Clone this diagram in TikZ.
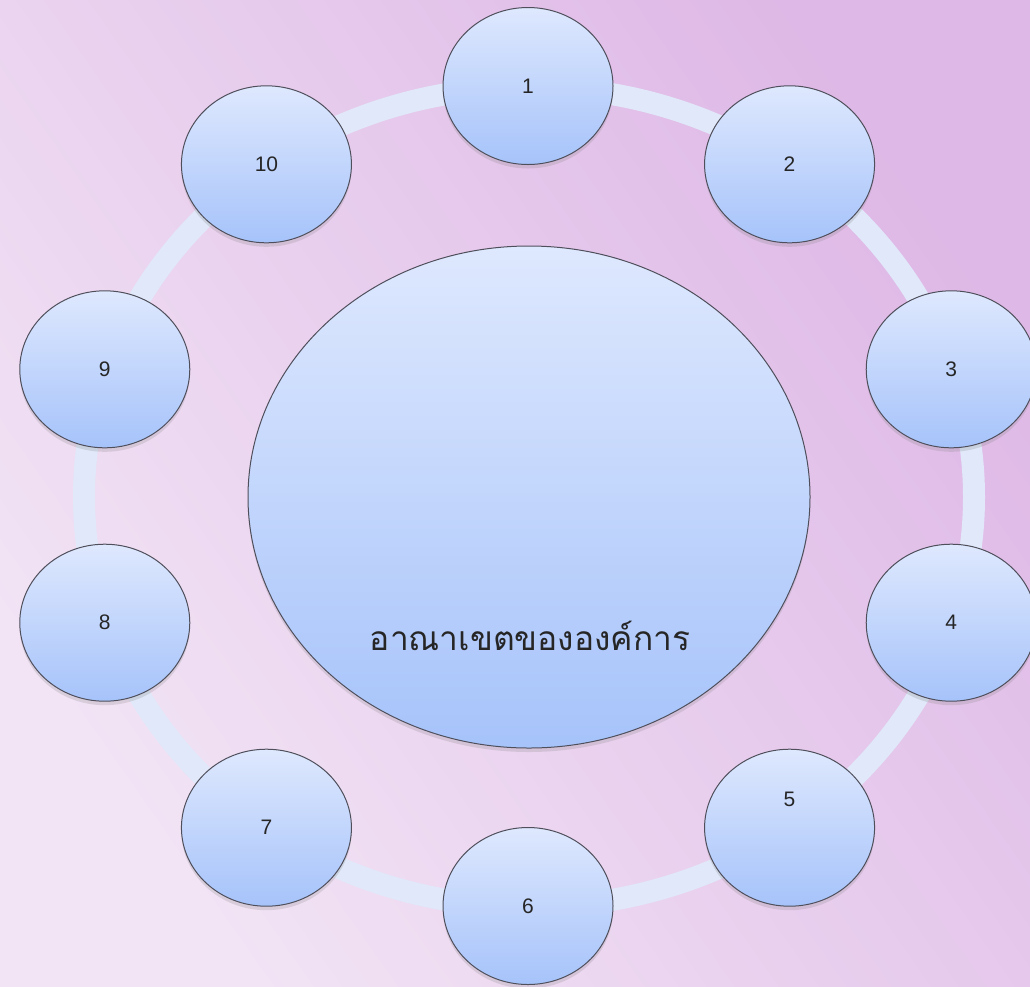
\documentclass[tikz,border=0pt]{standalone}
\usepackage{fontspec}
\setmainfont{Liberation Sans}
\newfontfamily\thaifont[Script=Thai]{Loma}
\usepackage{tikz}
\usetikzlibrary{shapes.geometric,shadows}
\definecolor{bgdark}{HTML}{DEB8E6}
\definecolor{bglight}{HTML}{F2E4F5}
\definecolor{bubtop}{HTML}{DEE8FE}
\definecolor{bubbot}{HTML}{A6C3FA}
\definecolor{bubline}{HTML}{4F4F5C}
\definecolor{ringc}{HTML}{E0E8F9}

\begin{document}
\begin{tikzpicture}[x=1pt,y=1pt]
\tikzstyle{bub}=[ellipse,draw=bubline,line width=1pt,top color=bubtop,bottom color=bubbot,
  inner sep=0pt,minimum width=170,minimum height=157,
  drop shadow={opacity=0.22,shadow xshift=0pt,shadow yshift=-4pt}]
\tikzstyle{num}=[font=\fontsize{21}{24}\selectfont,text=black!85]
\tikzstyle{ring}=[draw=ringc,line width=22pt]
% background
\shade[top color=bgdark,bottom color=bglight,shading angle=-55] (0,0) rectangle (1030,-986);
\useasboundingbox (0,0) rectangle (1030,-986);
% ring under everything
\coordinate (mid) at (529,-497);
\draw[ring] (mid) ellipse [x radius=445,y radius=410];
% centre
\node[bub,minimum width=562,minimum height=502] (ctr) at (mid) {};
\node[font=\thaifont\fontsize{33.5}{38}\selectfont,text=black!85] (ctrtext) at (530,-636) {อาณาเขตขององค์การ};
% ten outer bubbles
\foreach \i/\dy in {1/0,2/0,3/0,4/0,5/28,6/0,7/0,8/0,9/0,10/0}{
  \node[bub,label={[num,yshift=\dy pt]center:\i}] (c\i) at ({528+445*cos(90-36*(\i-1))},{-496+410*sin(90-36*(\i-1))}) {};
}
\end{tikzpicture}
\end{document}
